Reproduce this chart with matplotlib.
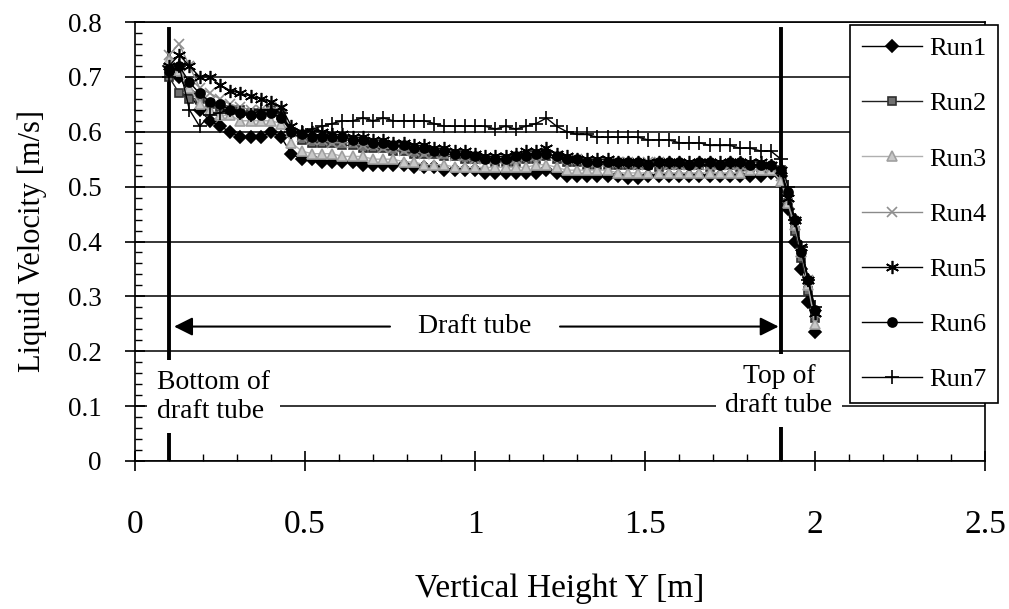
import matplotlib
matplotlib.use('Agg')
import matplotlib.pyplot as plt
from matplotlib.ticker import MultipleLocator, FormatStrFormatter

plt.rcParams['font.family'] = ['Liberation Serif', 'DejaVu Serif']

# measuring heights [m]
height = [0.10, 0.13, 0.16, 0.19, 0.22, 0.25, 0.28, 0.31, 0.34, 0.37,
          0.40, 0.43, 0.46, 0.49, 0.52, 0.55, 0.58, 0.61, 0.64, 0.67,
          0.70, 0.73, 0.76, 0.79, 0.82, 0.85, 0.88, 0.91, 0.94, 0.97,
          1.00, 1.03, 1.06, 1.09, 1.12, 1.15, 1.18, 1.21, 1.24, 1.27,
          1.30, 1.33, 1.36, 1.39, 1.42, 1.45, 1.48, 1.51, 1.54, 1.57,
          1.60, 1.63, 1.66, 1.69, 1.72, 1.75, 1.78, 1.81, 1.84, 1.87,
          1.90, 1.92, 1.94, 1.96, 1.98, 2.00]

run1 = [0.72, 0.70, 0.67, 0.64, 0.62, 0.61, 0.60, 0.59, 0.59, 0.59,
        0.60, 0.59, 0.56, 0.55, 0.55, 0.545, 0.545, 0.545, 0.545, 0.54,
        0.54, 0.54, 0.54, 0.54, 0.535, 0.535, 0.535, 0.53, 0.53, 0.53,
        0.53, 0.525, 0.525, 0.525, 0.525, 0.525, 0.525, 0.53, 0.525, 0.52,
        0.52, 0.52, 0.52, 0.52, 0.52, 0.515, 0.515, 0.52, 0.52, 0.52,
        0.52, 0.52, 0.52, 0.52, 0.52, 0.52, 0.52, 0.52, 0.52, 0.525,
        0.52, 0.46, 0.40, 0.35, 0.29, 0.235]
run2 = [0.70, 0.67, 0.66, 0.66, 0.65, 0.645, 0.64, 0.64, 0.635, 0.635,
        0.64, 0.63, 0.60, 0.585, 0.58, 0.58, 0.58, 0.575, 0.575, 0.57,
        0.57, 0.57, 0.565, 0.565, 0.56, 0.56, 0.56, 0.555, 0.555, 0.55,
        0.55, 0.55, 0.545, 0.545, 0.545, 0.55, 0.55, 0.555, 0.55, 0.545,
        0.545, 0.54, 0.54, 0.54, 0.54, 0.54, 0.54, 0.54, 0.535, 0.54,
        0.54, 0.54, 0.54, 0.535, 0.54, 0.54, 0.535, 0.535, 0.535, 0.535,
        0.53, 0.47, 0.42, 0.37, 0.31, 0.26]
run3 = [0.73, 0.71, 0.68, 0.65, 0.64, 0.63, 0.63, 0.62, 0.62, 0.62,
        0.62, 0.615, 0.58, 0.565, 0.56, 0.56, 0.56, 0.555, 0.555, 0.555,
        0.55, 0.55, 0.55, 0.545, 0.545, 0.54, 0.54, 0.54, 0.535, 0.535,
        0.535, 0.535, 0.535, 0.535, 0.535, 0.535, 0.54, 0.54, 0.535, 0.53,
        0.53, 0.53, 0.53, 0.53, 0.525, 0.525, 0.525, 0.525, 0.525, 0.525,
        0.525, 0.525, 0.525, 0.525, 0.525, 0.525, 0.525, 0.53, 0.53, 0.53,
        0.51, 0.47, 0.43, 0.38, 0.32, 0.25]
run4 = [0.74, 0.76, 0.72, 0.68, 0.67, 0.66, 0.65, 0.645, 0.64, 0.64,
        0.645, 0.64, 0.60, 0.59, 0.585, 0.585, 0.58, 0.58, 0.58, 0.575,
        0.575, 0.57, 0.57, 0.565, 0.565, 0.56, 0.56, 0.56, 0.555, 0.555,
        0.55, 0.55, 0.55, 0.55, 0.55, 0.555, 0.555, 0.56, 0.555, 0.55,
        0.55, 0.545, 0.545, 0.545, 0.545, 0.545, 0.54, 0.545, 0.545, 0.54,
        0.54, 0.54, 0.54, 0.54, 0.54, 0.54, 0.54, 0.54, 0.54, 0.535,
        0.52, 0.48, 0.43, 0.38, 0.33, 0.27]
run5 = [0.72, 0.74, 0.72, 0.70, 0.70, 0.685, 0.675, 0.67, 0.665, 0.66,
        0.655, 0.645, 0.61, 0.60, 0.60, 0.60, 0.595, 0.595, 0.59, 0.59,
        0.585, 0.585, 0.58, 0.58, 0.575, 0.575, 0.57, 0.57, 0.565, 0.565,
        0.56, 0.555, 0.555, 0.555, 0.56, 0.565, 0.565, 0.57, 0.56, 0.555,
        0.55, 0.55, 0.55, 0.55, 0.545, 0.545, 0.545, 0.545, 0.545, 0.545,
        0.545, 0.545, 0.545, 0.545, 0.545, 0.545, 0.545, 0.545, 0.545, 0.54,
        0.53, 0.48, 0.44, 0.39, 0.33, 0.27]
run6 = [0.71, 0.72, 0.69, 0.67, 0.655, 0.65, 0.64, 0.635, 0.63, 0.63,
        0.635, 0.625, 0.60, 0.595, 0.59, 0.59, 0.59, 0.59, 0.585, 0.585,
        0.58, 0.58, 0.575, 0.575, 0.57, 0.57, 0.565, 0.565, 0.56, 0.56,
        0.555, 0.55, 0.55, 0.55, 0.555, 0.555, 0.56, 0.56, 0.555, 0.55,
        0.55, 0.545, 0.545, 0.545, 0.545, 0.545, 0.545, 0.54, 0.545, 0.545,
        0.545, 0.54, 0.545, 0.545, 0.54, 0.545, 0.545, 0.54, 0.54, 0.54,
        0.53, 0.49, 0.44, 0.38, 0.33, 0.275]
run7 = [0.70, 0.72, 0.64, 0.61, 0.63, 0.635, 0.64, 0.635, 0.63, 0.64,
        0.64, 0.635, 0.60, 0.60, 0.605, 0.61, 0.615, 0.62, 0.62, 0.625,
        0.62, 0.625, 0.62, 0.62, 0.62, 0.62, 0.615, 0.61, 0.61, 0.61,
        0.61, 0.61, 0.605, 0.61, 0.605, 0.61, 0.615, 0.625, 0.61, 0.60,
        0.595, 0.595, 0.59, 0.59, 0.59, 0.59, 0.59, 0.585, 0.585, 0.585,
        0.58, 0.58, 0.58, 0.575, 0.575, 0.575, 0.57, 0.57, 0.565, 0.565,
        0.55, 0.50, 0.44, 0.39, 0.33, 0.28]

runs = [run1, run2, run3, run4, run5, run6, run7]
labels = ['Run1', 'Run2', 'Run3', 'Run4', 'Run5', 'Run6', 'Run7']

# (marker, marker face, marker edge, line colour, marker size)
styles = [('D', 'black', 'black', 'black', 6),
          ('s', '#707070', '#303030', '#202020', 6),
          ('^', '#c8c8c8', '#a0a0a0', '#b0b0b0', 6.5),
          ('x', '#a0a0a0', '#909090', '#8a8a8a', 7.5),
          ((6, 2, 0), 'black', 'black', 'black', 9.5),
          ('o', 'black', 'black', 'black', 6.5),
          ('+', 'black', 'black', 'black', 9.5)]

fig = plt.figure(figsize=(10.09, 6.09), dpi=100)
ax = fig.add_axes([135 / 1009, 1 - 461 / 609, 850 / 1009, 439 / 609])

for y, lab, (m, fc, ec, lc, ms) in zip(runs, labels, styles):
    ax.plot(height, y, color=lc, lw=1, marker=m, ms=ms, mfc=fc, mec=ec,
            mew=1.2, label=lab, zorder=5)

ax.set_xlim(0, 2.5)
ax.set_ylim(0, 0.8)

ax.xaxis.set_major_locator(MultipleLocator(0.5))
ax.xaxis.set_minor_locator(MultipleLocator(0.1))
ax.yaxis.set_major_locator(MultipleLocator(0.1))
ax.yaxis.set_minor_locator(MultipleLocator(0.02))
ax.xaxis.set_major_formatter(FormatStrFormatter('%g'))
ax.yaxis.set_major_formatter(FormatStrFormatter('%g'))

ax.tick_params(axis='both', which='major', direction='inout', length=14, width=1.2)
ax.tick_params(axis='both', which='minor', direction='in', length=5, width=1)
ax.tick_params(axis='x', which='major', labelsize=24, pad=28)
ax.tick_params(axis='y', which='major', labelsize=19.5, pad=17)

ax.yaxis.grid(True, color='black', lw=1.1, zorder=0)
ax.set_axisbelow(True)
for s in ax.spines.values():
    s.set_color('black')
    s.set_linewidth(1.2)

ax.set_xlabel('Vertical Height Y [m]', fontsize=24, labelpad=24)
ax.set_ylabel('Liquid Velocity [m/s]', fontsize=22, labelpad=15)

# draft tube ends
for xv in (0.1, 1.9):
    ax.axvline(xv, ymin=0, ymax=0.985, color='black', lw=2.8, zorder=2)

arrow = dict(arrowstyle='-|>', color='black', lw=1.5, mutation_scale=28,
             shrinkA=0, shrinkB=0)
ax.annotate('', xy=(0.115, 0.245), xytext=(0.75, 0.245), arrowprops=arrow, zorder=3)
ax.annotate('', xy=(1.893, 0.245), xytext=(1.25, 0.245), arrowprops=arrow, zorder=3)
ax.text(1.0, 0.245, 'Draft tube', fontsize=20, ha='center', va='center', zorder=4)

box = dict(boxstyle='square,pad=0.35', facecolor='white', edgecolor='none')
ax.text(0.065, 0.117, 'Bottom of\ndraft tube', fontsize=20, ha='left',
        va='center', bbox=box, zorder=4, multialignment='left')
ax.text(1.894, 0.128, 'Top of\ndraft tube', fontsize=20, ha='center',
        va='center', bbox=box, zorder=4, multialignment='center')

leg = ax.legend(loc='upper right', bbox_to_anchor=(998 / 1009, 1 - 25 / 609),
                bbox_transform=fig.transFigure, borderaxespad=0, fontsize=19,
                frameon=True, fancybox=False, framealpha=1, edgecolor='black',
                handlelength=2.3, handletextpad=0.25, labelspacing=1.2,
                borderpad=0.45)
leg.get_frame().set_linewidth(1.2)
leg.set_zorder(10)

fig.savefig('out.png', dpi=100)
